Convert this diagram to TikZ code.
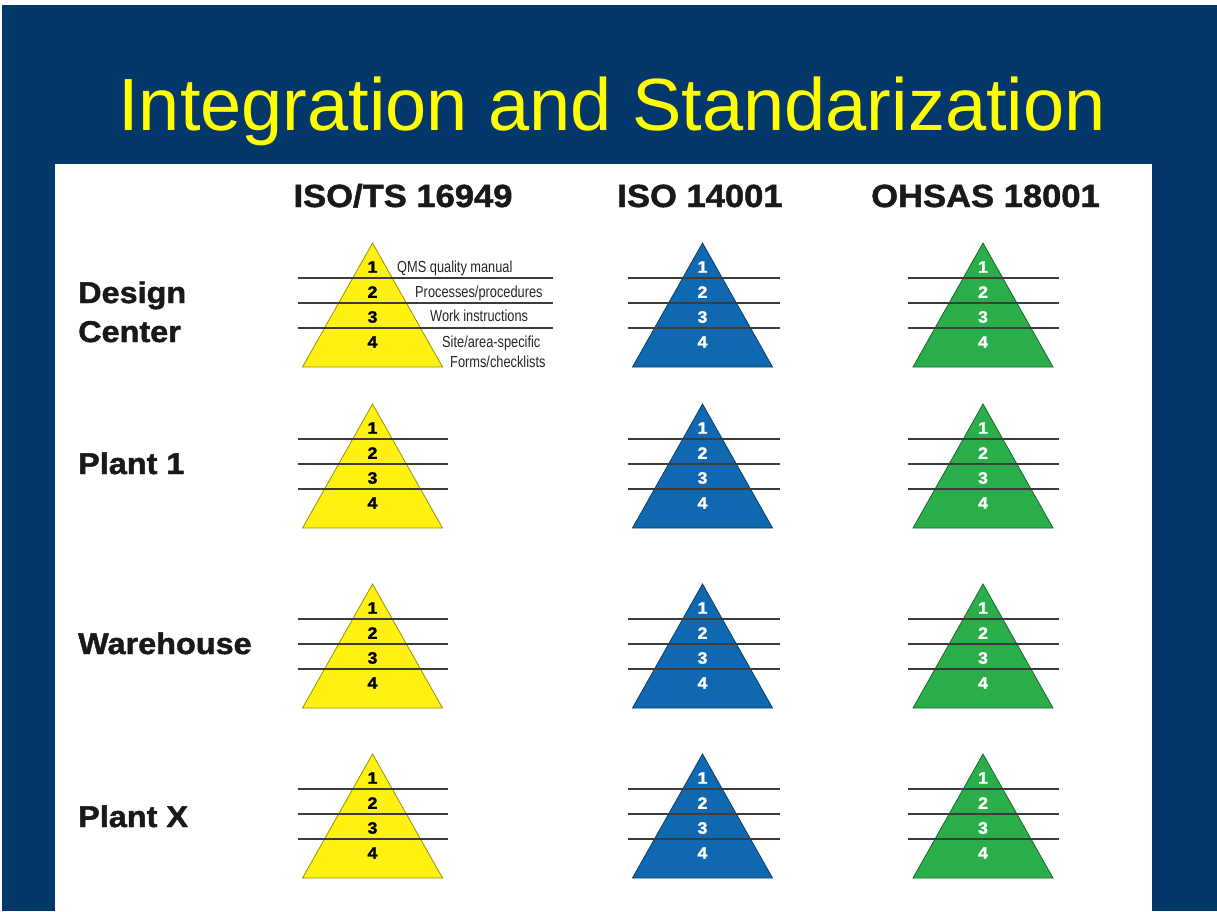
\documentclass[tikz,border=0pt]{standalone}
\usepackage{fontspec}
\setmainfont{Liberation Sans}
\newfontfamily\heavyfont[BoldFeatures={FakeBold=1.5,FakeStretch=1.08}]{Liberation Sans}
\newfontfamily\narrowfont[FakeStretch=0.8]{Liberation Sans}
\usetikzlibrary{positioning}

\definecolor{slideblue}{RGB}{4,56,106}
\definecolor{titleyellow}{RGB}{255,255,0}
\definecolor{pyryellow}{RGB}{255,241,18}
\definecolor{pyrblue}{RGB}{16,104,176}
\definecolor{pyrgreen}{RGB}{42,174,74}
\definecolor{rulegrey}{RGB}{60,60,60}

% one pyramid: name, apex x, apex y, fill, digit colour, right end of the rules
\newcommand{\pyramid}[6]{%
  \coordinate (#1) at (#2,#3);
  \filldraw[pyrbody, fill=#4, draw=#4!60!black] (#1) -- ++(-70,124) -- ++(140,0) -- cycle;
  \foreach \dy in {35,60,85}{
    \draw[rule] ([shift={(-75,\dy)}]#1) -- ([shift={(#6,\dy)}]#1);
  }
  \foreach \n/\dy in {1/24,2/49,3/74,4/99}{
    \node[num, text=#5] (#1-\n) at ([shift={(0,\dy)}]#1) {\n};
  }
}

\begin{document}
\begin{tikzpicture}[x=1pt,y=-1pt,
  pyrbody/.style={line width=0.8pt, line join=miter},
  rule/.style={draw=rulegrey, line width=1.5pt},
  num/.style={font=\heavyfont\bfseries\fontsize{16.5}{16.5}\selectfont, inner sep=0pt},
  title/.style={font=\fontsize{74}{80}\selectfont, text=titleyellow, inner sep=0pt, anchor=base},
  header/.style={font=\heavyfont\bfseries\fontsize{32}{32}\selectfont, text=black!90, inner sep=0pt, anchor=base},
  rowlabel/.style={font=\heavyfont\bfseries\fontsize{30}{30}\selectfont, text=black!90, inner sep=0pt, anchor=base west},
  level/.style={font=\narrowfont\fontsize{16}{16}\selectfont, text=black!85, inner sep=0pt, anchor=base west}]
  \useasboundingbox (0,0) rectangle (1217,911);
  \fill[white] (0,0) rectangle (1217,911);
  \fill[slideblue] (2,5) rectangle (1217,911);
  \fill[white] (55,164) rectangle (1152,911);

  \node[title] (title) at (612,130) {Integration and Standarization};

  \node[header] (hdr-ts)    at (403,207)   {ISO/TS 16949};
  \node[header] (hdr-iso)   at (700,207)   {ISO 14001};
  \node[header] (hdr-ohsas) at (985.5,207) {OHSAS 18001};

  \node[rowlabel] (design)    at (78,303) {Design};
  \node[rowlabel] (center)    at (78,342) {Center};
  \node[rowlabel] (plant1)    at (78,474) {Plant 1};
  \node[rowlabel] (warehouse) at (78,654) {Warehouse};
  \node[rowlabel] (plantx)    at (78,827) {Plant X};

  % yellow column, first one carries the level texts
  \pyramid{ts1}{372.5}{243}{pyryellow}{black}{180}
  \foreach \row/\y in {2/404,3/584,4/754}{
    \pyramid{ts\row}{372.5}{\y}{pyryellow}{black}{75}
  }
  % blue and green columns
  \foreach \row/\y in {1/243,2/404,3/584,4/754}{
    \pyramid{iso\row}{702.5}{\y}{pyrblue}{white}{77}
    \pyramid{ohsas\row}{983}{\y}{pyrgreen}{white}{76}
  }

  \node[level] (qms)   at (397,272) {QMS quality manual};
  \node[level] (proc)  at (415,297) {Processes/procedures};
  \node[level] (work)  at (430,321) {Work instructions};
  \node[level] (site)  at (442,347) {Site/area-specific};
  \node[level] (forms) at (450,367) {Forms/checklists};
\end{tikzpicture}
\end{document}
